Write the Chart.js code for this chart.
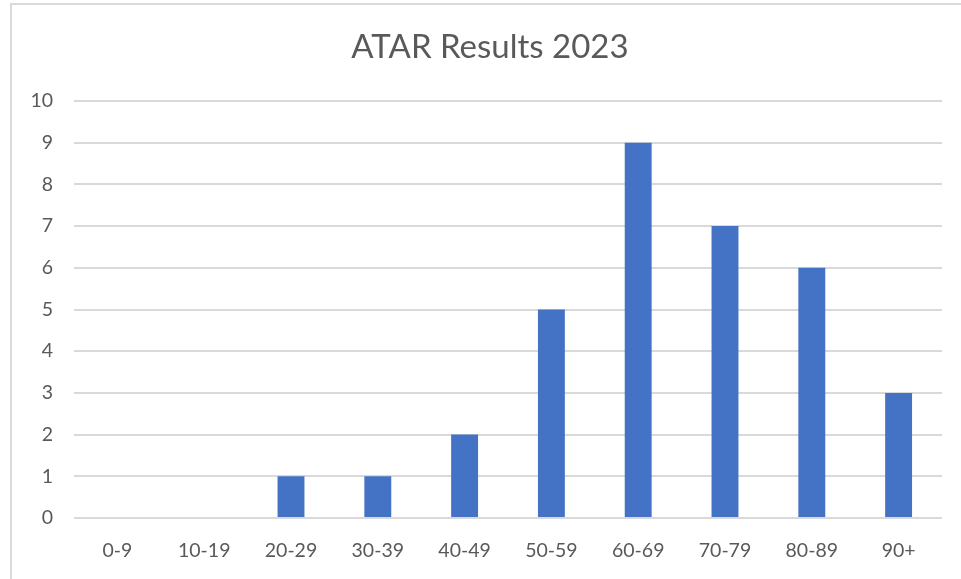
<!DOCTYPE html>
<html>
<head>
<meta charset="utf-8">
<script src="https://cdn.jsdelivr.net/npm/chart.js@4"></script>
<style>
html,body{margin:0;padding:0;background:#fff;}
#wrap{position:absolute;left:0;top:0;width:961px;height:579px;}
</style>
</head>
<body>
<div id="wrap"><canvas id="c" width="961" height="579"></canvas></div>
<script>
const categories = ['0-9','10-19','20-29','30-39','40-49','50-59','60-69','70-79','80-89','90+'];
const counts = [0,0,1,1,2,5,9,7,6,3];
const titleText = 'ATAR Results 2023';

const frame = {
  id: 'frame',
  afterLayout(chart) {
    const t = chart.titleBlock;
    if (t) { t.left += 19; t.right += 19; }
  },
  beforeDraw(chart) {
    const ctx = chart.ctx;
    ctx.save();
    ctx.strokeStyle = '#d9d9d9';
    ctx.lineWidth = 2;
    ctx.beginPath();
    ctx.moveTo(11, 579);
    ctx.lineTo(11, 4);
    ctx.lineTo(961, 4);
    ctx.stroke();
    ctx.restore();
  }
};

new Chart(document.getElementById('c'), {
  type: 'bar',
  data: {
    labels: categories,
    datasets: [{
      data: counts,
      backgroundColor: '#4472c4',
      barPercentage: 0.31,
      categoryPercentage: 1.0
    }]
  },
  plugins: [frame],
  options: {
    responsive: false,
    animation: false,
    devicePixelRatio: 1,
    layout: { padding: { left: 0, right: 19, top: 0, bottom: 0 } },
    plugins: {
      legend: { display: false },
      tooltip: { enabled: false },
      title: {
        display: true,
        text: titleText,
        color: '#595959',
        font: { family: 'Lato', size: 33, weight: 'normal' },
        padding: { top: 28, bottom: 33.4 }
      }
    },
    scales: {
      x: {
        grid: { display: false, drawTicks: false },
        border: { display: false },
        ticks: { color: '#595959', font: { family: 'Lato', size: 19.5 }, padding: 21, maxRotation: 0 },
        afterFit(s) { s.height = 61; }
      },
      y: {
        min: 0, max: 10,
        grid: { color: '#d9d9d9', lineWidth: 2, drawTicks: false },
        border: { display: false },
        ticks: { stepSize: 1, color: '#595959', font: { family: 'Lato', size: 19.5 }, padding: 21 },
        afterFit(s) { s.width = 74; }
      }
    }
  }
});
</script>
</body>
</html>
